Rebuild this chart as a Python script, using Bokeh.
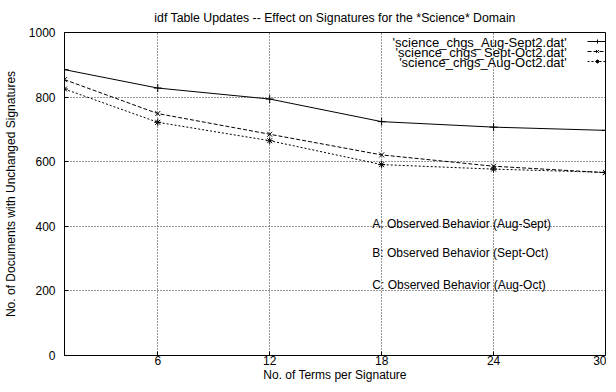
from bokeh.plotting import figure
from bokeh.models import Legend, LegendItem, Label, FixedTicker, Range1d
from bokeh.embed import file_html
from bokeh.resources import INLINE

# ---- data ----
terms = [1, 6, 12, 18, 24, 30]
aug_sept = [885, 828, 794, 724, 707, 697]
sept_oct = [854, 749, 685, 621, 586, 566]
aug_oct = [825, 722, 665, 591, 577, 567]
series_names = ["'science_chgs_Aug-Sept2.dat'",
                "'science_chgs_Sept-Oct2.dat'",
                "'science_chgs_Aug-Oct2.dat'"]
x_ticks = [6, 12, 18, 24, 30]
y_ticks = [0, 200, 400, 600, 800, 1000]
notes = ["A: Observed Behavior (Aug-Sept)",
         "B: Observed Behavior (Sept-Oct)",
         "C: Observed Behavior (Aug-Oct)"]
note_x = 17.5
note_y = [407, 316, 219]

FONT = "Liberation Sans"
FS = "12px"

FW, FH = 541, 323
p = figure(width=600, height=376, frame_width=FW, frame_height=FH,
           output_backend="svg", toolbar_location=None,
           x_range=Range1d(1, 30), y_range=Range1d(0, 1000),
           title="idf Table Updates -- Effect on Signatures for the *Science* Domain",
           min_border_left=58, min_border_right=1, min_border_top=25, min_border_bottom=28)

p.title.align = "center"
p.title.text_font = FONT
p.title.text_font_size = "12.3px"
p.title.text_font_style = "normal"
p.title.text_color = "black"
p.title.standoff = 16

p.outline_line_color = "black"
p.outline_line_width = 1
p.outline_line_alpha = 1

for ax in (p.xaxis[0], p.yaxis[0]):
    ax.axis_line_color = "black"
    ax.major_tick_in = 4
    ax.major_tick_out = 0
    ax.minor_tick_in = 0
    ax.minor_tick_out = 0
    ax.major_tick_line_color = "black"
    ax.major_label_text_font = FONT
    ax.major_label_text_font_size = FS
    ax.major_label_text_color = "black"
    ax.axis_label_text_font = FONT
    ax.axis_label_text_font_size = FS
    ax.axis_label_text_font_style = "normal"
    ax.axis_label_text_color = "black"

p.xaxis.ticker = FixedTicker(ticks=x_ticks)
p.yaxis.ticker = FixedTicker(ticks=y_ticks)
p.xaxis.axis_label = "No. of Terms per Signature"
p.yaxis.axis_label = "No. of Documents with Unchanged Signatures"
p.xaxis.major_label_standoff = 0
p.xaxis.axis_label_standoff = 0
p.yaxis.major_label_standoff = 9
p.yaxis.axis_label_standoff = 8

p.xgrid.ticker = FixedTicker(ticks=x_ticks[:-1])
p.ygrid.ticker = FixedTicker(ticks=y_ticks[1:-1])
for g in (p.xgrid[0], p.ygrid[0]):
    g.grid_line_color = "black"
    g.grid_line_alpha = 0.8
    g.grid_line_dash = "1 2"
    g.grid_line_width = 1

r1 = p.line(terms, aug_sept, line_color="black", line_width=1)
m1 = p.scatter(terms, aug_sept, marker="cross", size=8, line_color="black")
r2 = p.line(terms, sept_oct, line_color="black", line_width=1, line_dash="4 2")
m2 = p.scatter(terms, sept_oct, marker="x", size=7, line_color="black")
r3 = p.line(terms, aug_oct, line_color="black", line_width=1, line_dash="2 2")
m3 = p.scatter(terms, aug_oct, marker="asterisk", size=7, line_color="black")

legend = Legend(items=[LegendItem(label=" ", renderers=[r1, m1]),
                       LegendItem(label="  ", renderers=[r2, m2]),
                       LegendItem(label="   ", renderers=[r3, m3])],
                location=(FW - 22, FH - 38), glyph_width=20, glyph_height=10,
                label_height=10, label_width=0, label_standoff=0, spacing=0,
                padding=4, margin=0, border_line_alpha=0, background_fill_alpha=0,
                label_text_font_size="0px")
p.add_layout(legend)

leg_x = 27.92
leg_y = [968, 937, 906]
for name, yy in zip(series_names, leg_y):
    p.add_layout(Label(x=leg_x, y=yy, text=name, text_align="right",
                       text_baseline="middle", text_font=FONT, text_font_size="13px",
                       text_color="black"))

for t, yy in zip(notes, note_y):
    p.add_layout(Label(x=note_x, y=yy, text=t, text_align="left",
                       text_baseline="middle", text_font=FONT, text_font_size=FS,
                       text_color="black"))

open("out.html", "w").write(file_html(p, INLINE))
